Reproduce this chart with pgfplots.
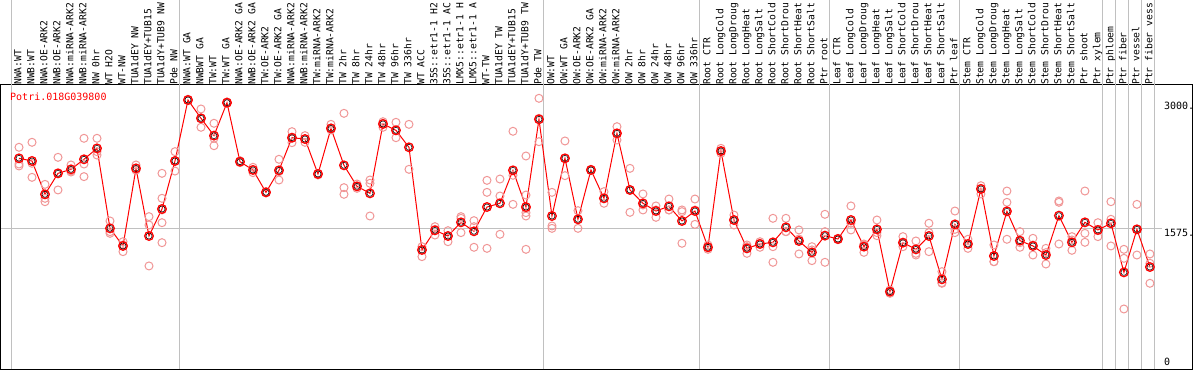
\documentclass[border=0pt]{standalone}
\usepackage{fontspec}
\setmonofont{DejaVu Sans Mono}
\usepackage{pgfplots}
\usepackage{pgfplotstable}
\pgfplotsset{compat=1.18}
\definecolor{gridgray}{RGB}{192,192,192}
\definecolor{repink}{RGB}{240,150,150}
\definecolor{meanred}{RGB}{255,0,0}
\pgfplotstableread{
i v
1 2359
2 2329
3 1954
4 2190
5 2235
6 2348
7 2471
8 1571
9 1373
10 2246
11 1485
12 1789
13 2329
14 3015
15 2809
16 2614
17 2985
18 2321
19 2228
20 1976
21 2224
22 2591
23 2576
24 2183
25 2696
26 2280
27 2044
28 1965
29 2745
30 2674
31 2483
32 1328
33 1549
34 1485
35 1639
36 1538
37 1811
38 1853
39 2224
40 1811
41 2798
42 1710
43 2359
44 1673
45 2228
46 1909
47 2640
48 2003
49 1853
50 1766
51 1819
52 1654
53 1766
54 1358
55 2441
56 1665
57 1346
58 1395
59 1414
60 1583
61 1429
62 1301
63 1489
64 1451
65 1665
66 1365
67 1560
68 859
69 1410
70 1335
71 1485
72 998
73 1616
74 1395
75 2014
76 1260
77 1763
78 1433
79 1373
80 1271
81 1714
82 1414
83 1639
84 1553
85 1628
86 1076
87 1560
88 1136
}\means
\pgfplotstableread{
i v
1 2483
1 2295
1 2273
2 2539
2 2303
2 2145
3 2066
3 1909
3 1871
4 2370
4 2190
4 2003
5 2284
5 2216
5 2205
6 2584
6 2295
6 2153
7 2584
7 2434
7 2396
8 1654
8 1534
8 1515
9 1421
9 1384
9 1309
10 2284
10 2228
10 2228
11 1703
11 1609
11 1148
12 2190
12 1909
12 1778
12 1635
12 1410
13 2434
13 2329
13 2216
14 3023
14 3015
14 3008
15 2914
15 2809
15 2708
16 2753
16 2584
16 2501
17 2993
17 2985
17 2978
18 2333
18 2321
18 2310
19 2258
19 2228
19 2198
20 1984
20 1976
20 1973
21 2348
21 2209
21 2115
22 2659
22 2584
22 2535
23 2614
23 2576
23 2539
24 2190
24 2183
24 2171
25 2741
25 2696
25 2678
26 2865
26 2029
26 1954
27 2070
27 2040
27 2021
28 2115
28 2078
28 1710
29 2771
29 2753
29 2708
30 2764
30 2674
30 2591
31 2741
31 2235
32 1365
32 1328
32 1253
33 1590
33 1560
33 1496
34 1545
34 1485
34 1421
35 1703
35 1684
35 1523
36 1658
36 1590
36 1358
37 2111
37 1976
37 1346
38 2126
38 1935
38 1504
39 2663
39 2168
39 1841
40 2385
40 1946
40 1796
40 1748
40 1710
40 1335
41 3034
41 2809
41 2546
42 1976
42 1598
42 1571
43 2554
43 2359
43 2164
44 1770
44 1673
44 1571
45 2235
45 2228
45 2220
46 1984
46 1909
46 1853
47 2715
47 2640
47 2565
48 2246
48 2003
48 1751
49 1958
49 1834
49 1778
50 1823
50 1778
50 1695
51 1901
51 1778
51 1778
52 1778
52 1759
52 1403
53 1901
53 1778
53 1616
54 1384
54 1358
54 1335
55 2471
55 2441
55 2415
56 1721
56 1665
56 1609
57 1384
57 1365
57 1290
58 1421
58 1403
58 1358
59 1684
59 1365
59 1189
60 1684
60 1534
60 1534
61 1553
61 1451
61 1283
62 1365
62 1328
62 1208
63 1729
63 1534
63 1189
64 1459
64 1451
64 1444
65 1823
65 1628
65 1553
66 1395
66 1384
66 1301
67 1665
67 1523
67 1489
68 878
68 859
68 840
69 1478
69 1410
69 1365
70 1429
70 1290
70 1271
71 1628
71 1523
71 1309
72 1084
72 960
72 953
73 1766
73 1560
73 1523
74 1448
74 1395
74 1346
75 2051
75 2021
75 1958
76 1384
76 1196
76 1196
77 1991
77 1864
77 1448
78 1534
78 1410
78 1358
79 1459
79 1384
79 1271
80 1346
80 1298
80 1170
81 1879
81 1864
81 1395
82 1478
82 1440
82 1324
83 1991
83 1515
83 1414
84 1635
84 1545
84 1478
85 1871
85 1673
85 1373
86 1335
86 1234
86 664
87 1841
87 1560
87 1271
88 1283
88 1178
88 953
}\reps
\begin{document}
\begin{tikzpicture}
\useasboundingbox (0pt,0pt) rectangle (1194pt,370pt);
\clip (0pt,0pt) rectangle (1194pt,370pt);
\begin{axis}[
  at={(1pt,1pt)}, anchor=south west,
  scale only axis, width=1192pt, height=284pt,
  xmin=-0.385, xmax=91.31,
  ymin=-11.25, ymax=3183.75,
  clip=false,
  axis line style={black, line width=1pt},
  xtick={1,...,88},
  xticklabel pos=upper,
  major tick length=0pt,
  ytick=\empty,
  xticklabel style={rotate=90, anchor=west, inner sep=0pt, yshift=1.2pt,
    text height=7.2pt, text depth=0pt,
    font=\ttfamily\fontsize{9.7}{12}\selectfont},
  xticklabels={
    NWA:WT, NWB:WT, NWA:OE-ARK2, NWB:OE-ARK2, NWA:miRNA-ARK2, NWB:miRNA-ARK2,
    NW 0hr, WT H2O, WT-NW, TUA1dEY NW, TUA1dEY+TUB15, TUA1dY+TUB9 NW, Pde NW,
    NWA:WT GA, NWBWT GA, TW:WT, TW:WT GA, NWA:OE-ARK2 GA, NWB:OE-ARK2 GA,
    TW:OE-ARK2, TW:OE-ARK2 GA, NWA:miRNA-ARK2, NWB:miRNA-ARK2,
    TW:miRNA-ARK2, TW:miRNA-ARK2, TW 2hr, TW 8hr, TW 24hr, TW 48hr, TW 96hr,
    TW 336hr, WT ACC, 35S::etr1-1 H2, 35S::etr1-1 AC, LMX5::etr1-1 H,
    LMX5::etr1-1 A, WT-TW, TUA1dEY TW, TUA1dEY+TUB15, TUA1dY+TUB9 TW, Pde TW,
    OW:WT, OW:WT GA, OW:OE-ARK2, OW:OE-ARK2 GA, OW:miRNA-ARK2, OW:miRNA-ARK2,
    OW 2hr, OW 8hr, OW 24hr, OW 48hr, OW 96hr, OW 336hr,
    Root CTR, Root LongCold, Root LongDroug, Root LongHeat, Root LongSalt,
    Root ShortCold, Root ShortDrou, Root ShortHeat, Root ShortSalt, Ptr root,
    Leaf CTR, Leaf LongCold, Leaf LongDroug, Leaf LongHeat, Leaf LongSalt,
    Leaf ShortCold, Leaf ShortDrou, Leaf ShortHeat, Leaf ShortSalt, Ptr leaf,
    Stem CTR, Stem LongCold, Stem LongDroug, Stem LongHeat, Stem LongSalt,
    Stem ShortCold, Stem ShortDrou, Stem ShortHeat, Stem ShortSalt, Ptr shoot,
    Ptr xylem, Ptr phloem, Ptr fiber, Ptr vessel, Ptr fiber vess},
]
\pgfplotsinvokeforeach{0.385,13.385,41.385,53.385,63.385,73.385,84.385,85.385,86.385,87.385,88.385}{
  \draw[gridgray, line width=1pt] (axis cs:#1,-11.25) -- (axis cs:#1,4140);
}
\draw[gridgray, line width=1pt] (axis cs:-0.385,1575) -- (axis cs:88.9,1575);
\addplot[only marks, mark=o, mark size=4pt, repink, mark options={line width=1pt}] table[x=i,y=v]{\reps};
\addplot[meanred, line width=1pt, mark=none] table[x=i,y=v]{\means};
\addplot[only marks, mark=o, mark size=4.3pt, meanred, mark options={line width=1.3pt}] table[x=i,y=v]{\means};
\addplot[only marks, mark=o, mark size=3pt, black, mark options={line width=0.5pt}] table[x=i,y=v]{\means};
\node[anchor=base west, inner sep=0pt, text=meanred, font=\ttfamily\fontsize{10}{12}\selectfont] at (axis cs:0.308,3004) {Potri.018G039800};
\node[anchor=base west, inner sep=0pt, font=\ttfamily\fontsize{10}{12}\selectfont] at (axis cs:89.08,2907) {3000.};
\node[anchor=base west, inner sep=0pt, font=\ttfamily\fontsize{10}{12}\selectfont] at (axis cs:89.08,1481) {1575.};
\node[anchor=base west, inner sep=0pt, font=\ttfamily\fontsize{10}{12}\selectfont] at (axis cs:89.08,30) {0};
\end{axis}
\end{tikzpicture}
\end{document}
